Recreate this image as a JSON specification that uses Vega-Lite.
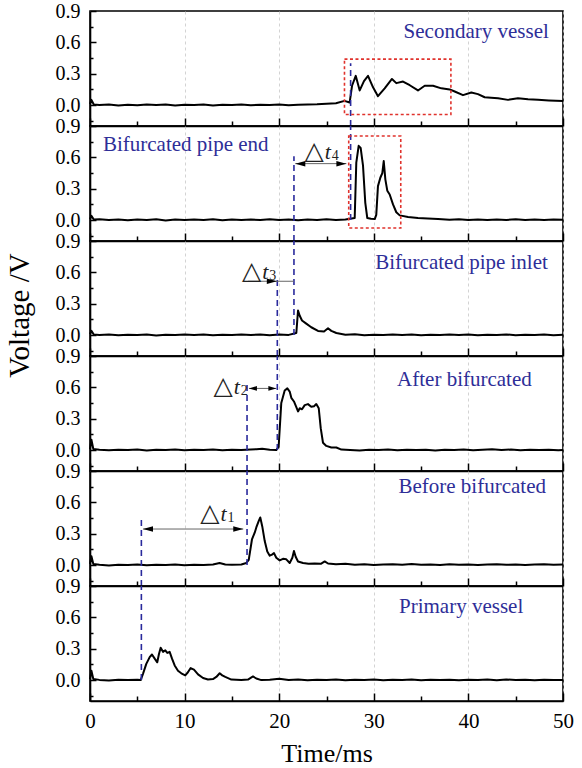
{
  "$schema": "https://vega.github.io/schema/vega-lite/v6.json",
  "background": "white",
  "padding": {"left": 4, "top": 0, "right": 6, "bottom": 0},
  "spacing": 0,
  "bounds": "flush",
  "config": {
    "view": {"stroke": "black", "strokeWidth": 1.6},
    "axis": {
      "labelFont": "Liberation Serif", "titleFont": "Liberation Serif",
      "labelColor": "black", "titleColor": "black", "titleFontWeight": "normal",
      "tickColor": "black", "domainColor": "black", "domainWidth": 1.6, "tickWidth": 1.5,
      "labelFlush": false, "labelOverlap": false
    },
    "axisX": {"gridDash": [3, 3], "gridColor": "#c8c8c8", "gridWidth": 0.8}
  },
  "datasets": {
    "s1": [{"t":0,"v":0.01},{"t":0.15,"v":0.05},{"t":0.4,"v":0.005},{"t":1,"v":0},{"t":2,"v":0.006},{"t":3,"v":-0.004},{"t":4,"v":0.004},{"t":5,"v":-0.002},{"t":6,"v":0.006},{"t":7,"v":0},{"t":8,"v":0.005},{"t":9,"v":-0.004},{"t":10,"v":0.004},{"t":11,"v":0},{"t":12,"v":0.006},{"t":13,"v":-0.003},{"t":14,"v":0.004},{"t":15,"v":0},{"t":16,"v":0.006},{"t":17,"v":-0.002},{"t":18,"v":0.004},{"t":19,"v":0},{"t":20,"v":0.005},{"t":21,"v":-0.002},{"t":22,"v":0.004},{"t":23,"v":0.006},{"t":24,"v":0.008},{"t":25,"v":0.012},{"t":26,"v":0.018},{"t":26.9,"v":0.04},{"t":27.45,"v":0.025},{"t":27.7,"v":0.185},{"t":28.09,"v":0.28},{"t":28.51,"v":0.14},{"t":28.96,"v":0.23},{"t":29.39,"v":0.28},{"t":29.92,"v":0.17},{"t":30.44,"v":0.085},{"t":31.15,"v":0.16},{"t":31.92,"v":0.25},{"t":32.38,"v":0.21},{"t":33.09,"v":0.225},{"t":33.8,"v":0.19},{"t":34.67,"v":0.14},{"t":35.38,"v":0.185},{"t":36.26,"v":0.185},{"t":37.14,"v":0.16},{"t":38.02,"v":0.15},{"t":38.55,"v":0.13},{"t":39.43,"v":0.095},{"t":40.31,"v":0.12},{"t":41.01,"v":0.105},{"t":41.72,"v":0.075},{"t":42.4,"v":0.07},{"t":43.13,"v":0.065},{"t":44.19,"v":0.05},{"t":45.24,"v":0.065},{"t":46.3,"v":0.055},{"t":47.36,"v":0.05},{"t":48.5,"v":0.045},{"t":50,"v":0.04}],
    "s2": [{"t":0,"v":0.01},{"t":0.15,"v":0.04},{"t":0.4,"v":0.005},{"t":1,"v":0.008},{"t":2,"v":0},{"t":3,"v":0.006},{"t":4,"v":-0.002},{"t":5,"v":0.005},{"t":6,"v":0.001},{"t":7,"v":0.007},{"t":8,"v":-0.003},{"t":9,"v":0.005},{"t":10,"v":0},{"t":11,"v":0.006},{"t":12,"v":0.002},{"t":13,"v":0.007},{"t":14,"v":-0.002},{"t":15,"v":0.005},{"t":16,"v":0.001},{"t":17,"v":0.006},{"t":18,"v":0},{"t":19,"v":0.008},{"t":20,"v":0.002},{"t":21,"v":0.006},{"t":22,"v":-0.002},{"t":23,"v":0.005},{"t":24,"v":0.001},{"t":25,"v":0.007},{"t":26,"v":0.002},{"t":27,"v":0.006},{"t":27.98,"v":0.02},{"t":28.15,"v":0.55},{"t":28.4,"v":0.71},{"t":28.61,"v":0.69},{"t":28.86,"v":0.52},{"t":29.1,"v":0.165},{"t":29.31,"v":0.02},{"t":29.7,"v":0.012},{"t":30.1,"v":0.01},{"t":30.26,"v":0.05},{"t":30.44,"v":0.325},{"t":30.69,"v":0.405},{"t":30.9,"v":0.45},{"t":31.05,"v":0.565},{"t":31.22,"v":0.39},{"t":31.43,"v":0.28},{"t":31.68,"v":0.245},{"t":32.03,"v":0.15},{"t":32.38,"v":0.075},{"t":32.74,"v":0.045},{"t":33.62,"v":0.03},{"t":34.67,"v":0.02},{"t":35.7,"v":0.015},{"t":36.79,"v":0.01},{"t":38,"v":0.004},{"t":39,"v":0.008},{"t":40,"v":0.002},{"t":41,"v":0.006},{"t":42,"v":0},{"t":43,"v":0.005},{"t":44,"v":0.002},{"t":45,"v":0.007},{"t":46,"v":0.001},{"t":47,"v":0.005},{"t":48,"v":0},{"t":49,"v":0.006},{"t":50,"v":0.003}],
    "s3": [{"t":0,"v":0.01},{"t":0.15,"v":0.04},{"t":0.4,"v":0.005},{"t":1,"v":0.002},{"t":2,"v":0.006},{"t":3,"v":-0.002},{"t":4,"v":0.004},{"t":5,"v":0.001},{"t":6,"v":0.006},{"t":7,"v":-0.003},{"t":8,"v":0.004},{"t":9,"v":0},{"t":10,"v":0.005},{"t":11,"v":0.001},{"t":12,"v":0.006},{"t":13,"v":-0.002},{"t":14,"v":0.004},{"t":15,"v":0},{"t":16,"v":0.005},{"t":17,"v":0.001},{"t":18,"v":0.006},{"t":19,"v":-0.002},{"t":20,"v":0.005},{"t":21,"v":0.002},{"t":21.81,"v":0.02},{"t":21.99,"v":0.235},{"t":22.17,"v":0.185},{"t":22.41,"v":0.14},{"t":22.86,"v":0.11},{"t":23.39,"v":0.075},{"t":24.1,"v":0.04},{"t":24.74,"v":0.035},{"t":25.16,"v":0.065},{"t":25.51,"v":0.04},{"t":26.04,"v":0.02},{"t":27,"v":0.004},{"t":28,"v":0.007},{"t":29,"v":-0.002},{"t":30,"v":0.004},{"t":31,"v":0},{"t":32,"v":0.006},{"t":33,"v":0.001},{"t":34,"v":0.005},{"t":35,"v":-0.002},{"t":36,"v":0.004},{"t":37,"v":0},{"t":38,"v":0.006},{"t":39,"v":0.001},{"t":40,"v":0.005},{"t":41,"v":-0.002},{"t":42,"v":0.004},{"t":43,"v":0.001},{"t":44,"v":0.006},{"t":45,"v":-0.001},{"t":46,"v":0.004},{"t":47,"v":0},{"t":48,"v":0.005},{"t":49,"v":-0.002},{"t":50,"v":0.003}],
    "s4": [{"t":0,"v":0.01},{"t":0.15,"v":0.1},{"t":0.35,"v":0.01},{"t":1,"v":0.003},{"t":2,"v":-0.002},{"t":3,"v":0.004},{"t":4,"v":0},{"t":5,"v":0.005},{"t":6,"v":-0.003},{"t":7,"v":0.003},{"t":8,"v":0.001},{"t":9,"v":0.006},{"t":10,"v":-0.002},{"t":11,"v":0.004},{"t":12,"v":0},{"t":13,"v":0.005},{"t":14,"v":-0.002},{"t":15,"v":0.003},{"t":16,"v":0.001},{"t":17,"v":0.006},{"t":17.6,"v":0.008},{"t":18.2,"v":0.012},{"t":19,"v":0.004},{"t":19.69,"v":0},{"t":19.94,"v":0.03},{"t":20.22,"v":0.45},{"t":20.58,"v":0.57},{"t":20.86,"v":0.59},{"t":21.11,"v":0.56},{"t":21.28,"v":0.5},{"t":21.56,"v":0.465},{"t":21.81,"v":0.41},{"t":21.99,"v":0.37},{"t":22.17,"v":0.4},{"t":22.41,"v":0.39},{"t":22.7,"v":0.43},{"t":23.04,"v":0.44},{"t":23.39,"v":0.415},{"t":23.68,"v":0.42},{"t":23.92,"v":0.44},{"t":24.18,"v":0.4},{"t":24.39,"v":0.21},{"t":24.63,"v":0.07},{"t":24.98,"v":0.04},{"t":25.51,"v":0.025},{"t":26.04,"v":0.025},{"t":26.57,"v":0.005},{"t":27.5,"v":0.002},{"t":28.5,"v":-0.003},{"t":29.5,"v":0.004},{"t":30.5,"v":0},{"t":31.5,"v":0.005},{"t":32.5,"v":-0.002},{"t":33.5,"v":0.003},{"t":34.5,"v":0},{"t":35.5,"v":0.004},{"t":36.5,"v":-0.003},{"t":37.5,"v":0.003},{"t":38.5,"v":0.001},{"t":39.5,"v":0.005},{"t":40.5,"v":-0.002},{"t":41.5,"v":0.004},{"t":42.5,"v":0.008},{"t":43.5,"v":0.002},{"t":44.5,"v":0.005},{"t":45.5,"v":-0.002},{"t":46.5,"v":0.003},{"t":47.5,"v":0},{"t":48.5,"v":0.004},{"t":49.5,"v":-0.002},{"t":50,"v":0.002}],
    "s5": [{"t":0,"v":0.01},{"t":0.15,"v":0.085},{"t":0.35,"v":0.01},{"t":1,"v":0.003},{"t":2,"v":-0.003},{"t":3,"v":0.004},{"t":4,"v":0},{"t":5,"v":0.005},{"t":6,"v":-0.002},{"t":7,"v":0.003},{"t":8,"v":0.001},{"t":9,"v":0.005},{"t":10,"v":-0.002},{"t":11,"v":0.004},{"t":12,"v":0.001},{"t":13,"v":0.006},{"t":13.7,"v":0.02},{"t":14.3,"v":0.005},{"t":15,"v":0.004},{"t":16,"v":0.006},{"t":16.52,"v":0.02},{"t":16.78,"v":0.05},{"t":17.12,"v":0.245},{"t":17.41,"v":0.31},{"t":17.58,"v":0.36},{"t":17.83,"v":0.42},{"t":18,"v":0.455},{"t":18.21,"v":0.37},{"t":18.47,"v":0.23},{"t":18.74,"v":0.13},{"t":19,"v":0.09},{"t":19.24,"v":0.1},{"t":19.45,"v":0.115},{"t":19.69,"v":0.07},{"t":20.05,"v":0.045},{"t":20.4,"v":0.06},{"t":20.75,"v":0.055},{"t":21.11,"v":0.02},{"t":21.39,"v":0.07},{"t":21.56,"v":0.135},{"t":21.74,"v":0.08},{"t":21.99,"v":0.035},{"t":22.52,"v":0.02},{"t":23.1,"v":0.012},{"t":23.75,"v":0.015},{"t":24.4,"v":0.012},{"t":24.81,"v":0.035},{"t":25.16,"v":0.015},{"t":26,"v":0.008},{"t":27,"v":0.012},{"t":28,"v":0.004},{"t":29,"v":0.007},{"t":30,"v":0.002},{"t":31,"v":0.006},{"t":32,"v":0.009},{"t":33,"v":0.003},{"t":34,"v":0.01},{"t":35,"v":0.004},{"t":36,"v":0.006},{"t":37,"v":0.002},{"t":38,"v":0.007},{"t":39,"v":0.004},{"t":40,"v":0.006},{"t":41,"v":0.002},{"t":42,"v":0.005},{"t":43,"v":0.008},{"t":44,"v":0.003},{"t":45,"v":0.006},{"t":46,"v":0.002},{"t":47,"v":0.005},{"t":48,"v":0.007},{"t":49,"v":0.003},{"t":50,"v":0.005}],
    "s6": [{"t":0,"v":0.01},{"t":0.15,"v":0.09},{"t":0.35,"v":0.01},{"t":1,"v":0.002},{"t":2,"v":-0.003},{"t":3,"v":0.004},{"t":4,"v":0},{"t":5,"v":0.003},{"t":5.36,"v":0},{"t":5.6,"v":0.06},{"t":5.95,"v":0.155},{"t":6.31,"v":0.22},{"t":6.55,"v":0.245},{"t":6.84,"v":0.205},{"t":7.11,"v":0.17},{"t":7.29,"v":0.25},{"t":7.47,"v":0.31},{"t":7.72,"v":0.27},{"t":7.96,"v":0.285},{"t":8.17,"v":0.26},{"t":8.42,"v":0.27},{"t":8.67,"v":0.205},{"t":8.95,"v":0.14},{"t":9.3,"v":0.09},{"t":9.65,"v":0.065},{"t":10.07,"v":0.045},{"t":10.35,"v":0.075},{"t":10.64,"v":0.115},{"t":10.99,"v":0.1},{"t":11.42,"v":0.055},{"t":11.95,"v":0.02},{"t":12.47,"v":0.005},{"t":13,"v":0.01},{"t":13.35,"v":0.03},{"t":13.71,"v":0.065},{"t":13.98,"v":0.045},{"t":14.3,"v":0.03},{"t":14.94,"v":0.005},{"t":15.99,"v":0},{"t":16.7,"v":0.005},{"t":17.23,"v":0.035},{"t":17.58,"v":0.015},{"t":18.11,"v":0},{"t":19,"v":0.004},{"t":20,"v":0.012},{"t":21,"v":0.002},{"t":22,"v":0.005},{"t":23,"v":-0.002},{"t":24,"v":0.004},{"t":25,"v":0},{"t":26,"v":0.005},{"t":27,"v":-0.002},{"t":28,"v":0.003},{"t":29,"v":0.001},{"t":30,"v":0.005},{"t":31,"v":-0.002},{"t":32,"v":0.004},{"t":33,"v":0},{"t":34,"v":0.005},{"t":35,"v":-0.002},{"t":36,"v":0.003},{"t":37,"v":0.001},{"t":38,"v":0.004},{"t":39,"v":-0.002},{"t":40,"v":0.003},{"t":41,"v":0.001},{"t":42,"v":0.005},{"t":43,"v":-0.002},{"t":44,"v":0.006},{"t":45,"v":0.001},{"t":46,"v":0.004},{"t":47,"v":-0.002},{"t":48,"v":0.003},{"t":49,"v":0},{"t":50,"v":0.002}],
    "guides": [
      {"p":1,"t":27.55,"a":-0.2,"b":0.4},
      {"p":2,"t":27.55,"a":0,"b":0.9},{"p":2,"t":21.56,"a":-0.2,"b":0.61},
      {"p":3,"t":21.56,"a":0,"b":0.9},{"p":3,"t":19.8,"a":-0.2,"b":0.55},
      {"p":4,"t":19.8,"a":0,"b":0.9},{"p":4,"t":16.6,"a":-0.2,"b":0.65},
      {"p":5,"t":16.6,"a":0,"b":0.9},{"p":5,"t":5.43,"a":-0.2,"b":0.44},
      {"p":6,"t":5.43,"a":0,"b":0.9}
    ],
    "boxes": [
      {"p":1,"t":26.9,"t2":38.15,"a":-0.09,"b":0.44},
      {"p":2,"t":27.35,"t2":32.85,"a":-0.075,"b":0.805}
    ],
    "names": [
      {"p":1,"t":48.5,"v":0.7,"name":"Secondary vessel"},
      {"p":2,"t":1.37,"v":0.72,"name":"Bifurcated pipe end"},
      {"p":3,"t":48.4,"v":0.69,"name":"Bifurcated pipe inlet"},
      {"p":4,"t":46.7,"v":0.675,"name":"After bifurcated"},
      {"p":5,"t":48.2,"v":0.75,"name":"Before bifurcated"},
      {"p":6,"t":45.8,"v":0.7,"name":"Primary vessel"}
    ],
    "arrows": [
      {"p":5,"t":5.6,"t2":16.2,"v":0.345},
      {"p":4,"t":16.8,"t2":19.7,"v":0.59},
      {"p":3,"t":16.7,"t2":21.56,"v":0.515},
      {"p":2,"t":21.7,"t2":27.1,"v":0.54}
    ],
    "heads": [
      {"p":5,"t":5.6,"v":0.345,"d":"L"},{"p":5,"t":16.2,"v":0.345,"d":"R"},
      {"p":4,"t":16.8,"v":0.59,"d":"L"},{"p":4,"t":19.7,"v":0.59,"d":"R"},
      {"p":3,"t":19.75,"v":0.515,"d":"R"},
      {"p":2,"t":21.7,"v":0.54,"d":"L"},{"p":2,"t":27.1,"v":0.54,"d":"R"}
    ],
    "dt": [
      {"p":5,"t":13.7,"v":0.5,"s":"1"},
      {"p":4,"t":15.1,"v":0.61,"s":"2"},
      {"p":3,"t":18.1,"v":0.61,"s":"3"},
      {"p":2,"t":24.7,"v":0.66,"s":"4"}
    ]
  },
  "vconcat": [
    {
      "width": 473, "height": 115,
      "layer": [
        {"data": {"name": "s1"}, "mark": {"type": "line", "color": "black", "strokeWidth": 2, "strokeJoin": "round"},
         "encoding": {
           "x": {"field": "t", "type": "quantitative", "scale": {"domain": [0, 50], "nice": false},
                 "axis": {"orient": "bottom", "values": [0,10,20,30,40,50], "labels": false, "title": null, "tickSize": -8, "grid": true}},
           "y": {"field": "v", "type": "quantitative", "scale": {"domain": [-0.2, 0.9], "nice": false, "zero": false},
                 "axis": {"orient": "left", "values": [0,0.3,0.6,0.9], "format": ".1f", "tickSize": -6, "labelPadding": 16, "labelFontSize": 20, "grid": false, "title": null}}}},
        {"data": {"name": "guides"}, "transform": [{"filter": "datum.p == 1"}],
         "mark": {"type": "rule", "color": "#2a2a9c", "strokeWidth": 1.6, "strokeDash": [6, 4]},
         "encoding": {
           "x": {"field": "t", "type": "quantitative", "axis": {"orient": "bottom", "values": [5,15,25,35,45], "tickSize": -5, "labels": false, "domain": false, "grid": false, "title": null}},
           "y": {"field": "a", "type": "quantitative", "axis": {"orient": "left", "values": [-0.15,0.15,0.45,0.75], "tickSize": -3, "labels": false, "domain": false, "grid": false, "title": null}},
           "y2": {"field": "b"}}},
        {"data": {"name": "boxes"}, "transform": [{"filter": "datum.p == 1"}],
         "mark": {"type": "rect", "fillOpacity": 0, "stroke": "#e0322c", "strokeWidth": 1.6, "strokeDash": [3, 2.5]},
         "encoding": {"x": {"field": "t", "type": "quantitative", "axis": null}, "x2": {"field": "t2"},
                      "y": {"field": "a", "type": "quantitative", "axis": null}, "y2": {"field": "b"}}},
        {"data": {"name": "names"}, "transform": [{"filter": "datum.p == 1"}],
         "mark": {"type": "text", "align": "right", "baseline": "middle", "font": "Liberation Serif", "fontSize": 21, "color": "#2e2e98"},
         "encoding": {"x": {"field": "t", "type": "quantitative", "axis": null}, "y": {"field": "v", "type": "quantitative", "axis": null}, "text": {"field": "name"}}}
      ],
      "resolve": {"axis": {"x": "independent", "y": "independent"}}
    },
    {
      "width": 473, "height": 115,
      "layer": [
        {"data": {"name": "s2"}, "mark": {"type": "line", "color": "black", "strokeWidth": 2, "strokeJoin": "round"},
         "encoding": {
           "x": {"field": "t", "type": "quantitative", "scale": {"domain": [0, 50], "nice": false},
                 "axis": {"orient": "bottom", "values": [0,10,20,30,40,50], "labels": false, "title": null, "tickSize": -8, "grid": true}},
           "y": {"field": "v", "type": "quantitative", "scale": {"domain": [-0.2, 0.9], "nice": false, "zero": false},
                 "axis": {"orient": "left", "values": [0,0.3,0.6,0.9], "format": ".1f", "tickSize": -6, "labelPadding": 16, "labelFontSize": 20, "grid": false, "title": null}}}},
        {"data": {"name": "guides"}, "transform": [{"filter": "datum.p == 2"}],
         "mark": {"type": "rule", "color": "#2a2a9c", "strokeWidth": 1.6, "strokeDash": [6, 4]},
         "encoding": {
           "x": {"field": "t", "type": "quantitative", "axis": {"orient": "bottom", "values": [5,15,25,35,45], "tickSize": -5, "labels": false, "domain": false, "grid": false, "title": null}},
           "y": {"field": "a", "type": "quantitative", "axis": {"orient": "left", "values": [-0.15,0.15,0.45,0.75], "tickSize": -3, "labels": false, "domain": false, "grid": false, "title": null}},
           "y2": {"field": "b"}}},
        {"data": {"name": "boxes"}, "transform": [{"filter": "datum.p == 2"}],
         "mark": {"type": "rect", "fillOpacity": 0, "stroke": "#e0322c", "strokeWidth": 1.6, "strokeDash": [3, 2.5]},
         "encoding": {"x": {"field": "t", "type": "quantitative", "axis": null}, "x2": {"field": "t2"},
                      "y": {"field": "a", "type": "quantitative", "axis": null}, "y2": {"field": "b"}}},
        {"data": {"name": "names"}, "transform": [{"filter": "datum.p == 2"}],
         "mark": {"type": "text", "align": "left", "baseline": "middle", "font": "Liberation Serif", "fontSize": 21, "color": "#2e2e98"},
         "encoding": {"x": {"field": "t", "type": "quantitative", "axis": null}, "y": {"field": "v", "type": "quantitative", "axis": null}, "text": {"field": "name"}}},
        {"data": {"name": "arrows"}, "transform": [{"filter": "datum.p == 2"}],
         "mark": {"type": "rule", "color": "#666666", "strokeWidth": 1},
         "encoding": {"x": {"field": "t", "type": "quantitative", "axis": null}, "x2": {"field": "t2"}, "y": {"field": "v", "type": "quantitative", "axis": null}}},
        {"data": {"name": "heads"}, "transform": [{"filter": "datum.p == 2 && datum.d == 'L'"}],
         "mark": {"type": "point", "filled": true, "opacity": 1, "color": "black", "size": 100, "shape": "M0,0L2,-0.55L2,0.55Z"},
         "encoding": {"x": {"field": "t", "type": "quantitative", "axis": null}, "y": {"field": "v", "type": "quantitative", "axis": null}}},
        {"data": {"name": "heads"}, "transform": [{"filter": "datum.p == 2 && datum.d == 'R'"}],
         "mark": {"type": "point", "filled": true, "opacity": 1, "color": "black", "size": 100, "shape": "M0,0L-2,-0.55L-2,0.55Z"},
         "encoding": {"x": {"field": "t", "type": "quantitative", "axis": null}, "y": {"field": "v", "type": "quantitative", "axis": null}}},
        {"data": {"name": "dt"}, "transform": [{"filter": "datum.p == 2"}],
         "mark": {"type": "text", "text": "△", "align": "right", "baseline": "middle", "font": "DejaVu Sans", "fontSize": 25, "color": "#222222"},
         "encoding": {"x": {"field": "t", "type": "quantitative", "axis": null}, "y": {"field": "v", "type": "quantitative", "axis": null}}},
        {"data": {"name": "dt"}, "transform": [{"filter": "datum.p == 2"}],
         "mark": {"type": "text", "text": "t", "align": "left", "baseline": "middle", "dx": 1, "dy": 1, "font": "Liberation Serif", "fontStyle": "italic", "fontSize": 22, "color": "#222222"},
         "encoding": {"x": {"field": "t", "type": "quantitative", "axis": null}, "y": {"field": "v", "type": "quantitative", "axis": null}}},
        {"data": {"name": "dt"}, "transform": [{"filter": "datum.p == 2"}],
         "mark": {"type": "text", "align": "left", "baseline": "middle", "dx": 8, "dy": 5, "font": "Liberation Serif", "fontSize": 14, "color": "#222222"},
         "encoding": {"x": {"field": "t", "type": "quantitative", "axis": null}, "y": {"field": "v", "type": "quantitative", "axis": null}, "text": {"field": "s"}}}
      ],
      "resolve": {"axis": {"x": "independent", "y": "independent"}}
    },
    {
      "width": 473, "height": 115,
      "layer": [
        {"data": {"name": "s3"}, "mark": {"type": "line", "color": "black", "strokeWidth": 2, "strokeJoin": "round"},
         "encoding": {
           "x": {"field": "t", "type": "quantitative", "scale": {"domain": [0, 50], "nice": false},
                 "axis": {"orient": "bottom", "values": [0,10,20,30,40,50], "labels": false, "title": null, "tickSize": -8, "grid": true}},
           "y": {"field": "v", "type": "quantitative", "scale": {"domain": [-0.2, 0.9], "nice": false, "zero": false},
                 "axis": {"orient": "left", "values": [0,0.3,0.6,0.9], "format": ".1f", "tickSize": -6, "labelPadding": 16, "labelFontSize": 20, "grid": false,
                          "title": "Voltage /V", "titleFontSize": 29, "titleAngle": -90, "titleAlign": "center", "titleBaseline": "alphabetic", "titleX": -62, "titleY": 74}}}},
        {"data": {"name": "guides"}, "transform": [{"filter": "datum.p == 3"}],
         "mark": {"type": "rule", "color": "#2a2a9c", "strokeWidth": 1.6, "strokeDash": [6, 4]},
         "encoding": {
           "x": {"field": "t", "type": "quantitative", "axis": {"orient": "bottom", "values": [5,15,25,35,45], "tickSize": -5, "labels": false, "domain": false, "grid": false, "title": null}},
           "y": {"field": "a", "type": "quantitative", "axis": {"orient": "left", "values": [-0.15,0.15,0.45,0.75], "tickSize": -3, "labels": false, "domain": false, "grid": false, "title": null}},
           "y2": {"field": "b"}}},
        {"data": {"name": "names"}, "transform": [{"filter": "datum.p == 3"}],
         "mark": {"type": "text", "align": "right", "baseline": "middle", "font": "Liberation Serif", "fontSize": 21, "color": "#2e2e98"},
         "encoding": {"x": {"field": "t", "type": "quantitative", "axis": null}, "y": {"field": "v", "type": "quantitative", "axis": null}, "text": {"field": "name"}}},
        {"data": {"name": "arrows"}, "transform": [{"filter": "datum.p == 3"}],
         "mark": {"type": "rule", "color": "#666666", "strokeWidth": 1},
         "encoding": {"x": {"field": "t", "type": "quantitative", "axis": null}, "x2": {"field": "t2"}, "y": {"field": "v", "type": "quantitative", "axis": null}}},
        {"data": {"name": "heads"}, "transform": [{"filter": "datum.p == 3 && datum.d == 'R'"}],
         "mark": {"type": "point", "filled": true, "opacity": 1, "color": "black", "size": 100, "shape": "M0,0L-2,-0.55L-2,0.55Z"},
         "encoding": {"x": {"field": "t", "type": "quantitative", "axis": null}, "y": {"field": "v", "type": "quantitative", "axis": null}}},
        {"data": {"name": "dt"}, "transform": [{"filter": "datum.p == 3"}],
         "mark": {"type": "text", "text": "△", "align": "right", "baseline": "middle", "font": "DejaVu Sans", "fontSize": 25, "color": "#222222"},
         "encoding": {"x": {"field": "t", "type": "quantitative", "axis": null}, "y": {"field": "v", "type": "quantitative", "axis": null}}},
        {"data": {"name": "dt"}, "transform": [{"filter": "datum.p == 3"}],
         "mark": {"type": "text", "text": "t", "align": "left", "baseline": "middle", "dx": 1, "dy": 1, "font": "Liberation Serif", "fontStyle": "italic", "fontSize": 22, "color": "#222222"},
         "encoding": {"x": {"field": "t", "type": "quantitative", "axis": null}, "y": {"field": "v", "type": "quantitative", "axis": null}}},
        {"data": {"name": "dt"}, "transform": [{"filter": "datum.p == 3"}],
         "mark": {"type": "text", "align": "left", "baseline": "middle", "dx": 8, "dy": 5, "font": "Liberation Serif", "fontSize": 14, "color": "#222222"},
         "encoding": {"x": {"field": "t", "type": "quantitative", "axis": null}, "y": {"field": "v", "type": "quantitative", "axis": null}, "text": {"field": "s"}}}
      ],
      "resolve": {"axis": {"x": "independent", "y": "independent"}}
    },
    {
      "width": 473, "height": 115,
      "layer": [
        {"data": {"name": "s4"}, "mark": {"type": "line", "color": "black", "strokeWidth": 2, "strokeJoin": "round"},
         "encoding": {
           "x": {"field": "t", "type": "quantitative", "scale": {"domain": [0, 50], "nice": false},
                 "axis": {"orient": "bottom", "values": [0,10,20,30,40,50], "labels": false, "title": null, "tickSize": -8, "grid": true}},
           "y": {"field": "v", "type": "quantitative", "scale": {"domain": [-0.2, 0.9], "nice": false, "zero": false},
                 "axis": {"orient": "left", "values": [0,0.3,0.6,0.9], "format": ".1f", "tickSize": -6, "labelPadding": 16, "labelFontSize": 20, "grid": false, "title": null}}}},
        {"data": {"name": "guides"}, "transform": [{"filter": "datum.p == 4"}],
         "mark": {"type": "rule", "color": "#2a2a9c", "strokeWidth": 1.6, "strokeDash": [6, 4]},
         "encoding": {
           "x": {"field": "t", "type": "quantitative", "axis": {"orient": "bottom", "values": [5,15,25,35,45], "tickSize": -5, "labels": false, "domain": false, "grid": false, "title": null}},
           "y": {"field": "a", "type": "quantitative", "axis": {"orient": "left", "values": [-0.15,0.15,0.45,0.75], "tickSize": -3, "labels": false, "domain": false, "grid": false, "title": null}},
           "y2": {"field": "b"}}},
        {"data": {"name": "names"}, "transform": [{"filter": "datum.p == 4"}],
         "mark": {"type": "text", "align": "right", "baseline": "middle", "font": "Liberation Serif", "fontSize": 21, "color": "#2e2e98"},
         "encoding": {"x": {"field": "t", "type": "quantitative", "axis": null}, "y": {"field": "v", "type": "quantitative", "axis": null}, "text": {"field": "name"}}},
        {"data": {"name": "arrows"}, "transform": [{"filter": "datum.p == 4"}],
         "mark": {"type": "rule", "color": "#666666", "strokeWidth": 1},
         "encoding": {"x": {"field": "t", "type": "quantitative", "axis": null}, "x2": {"field": "t2"}, "y": {"field": "v", "type": "quantitative", "axis": null}}},
        {"data": {"name": "heads"}, "transform": [{"filter": "datum.p == 4 && datum.d == 'L'"}],
         "mark": {"type": "point", "filled": true, "opacity": 1, "color": "black", "size": 64, "shape": "M0,0L2,-0.6L2,0.6Z"},
         "encoding": {"x": {"field": "t", "type": "quantitative", "axis": null}, "y": {"field": "v", "type": "quantitative", "axis": null}}},
        {"data": {"name": "heads"}, "transform": [{"filter": "datum.p == 4 && datum.d == 'R'"}],
         "mark": {"type": "point", "filled": true, "opacity": 1, "color": "black", "size": 64, "shape": "M0,0L-2,-0.6L-2,0.6Z"},
         "encoding": {"x": {"field": "t", "type": "quantitative", "axis": null}, "y": {"field": "v", "type": "quantitative", "axis": null}}},
        {"data": {"name": "dt"}, "transform": [{"filter": "datum.p == 4"}],
         "mark": {"type": "text", "text": "△", "align": "right", "baseline": "middle", "font": "DejaVu Sans", "fontSize": 25, "color": "#222222"},
         "encoding": {"x": {"field": "t", "type": "quantitative", "axis": null}, "y": {"field": "v", "type": "quantitative", "axis": null}}},
        {"data": {"name": "dt"}, "transform": [{"filter": "datum.p == 4"}],
         "mark": {"type": "text", "text": "t", "align": "left", "baseline": "middle", "dx": 1, "dy": 1, "font": "Liberation Serif", "fontStyle": "italic", "fontSize": 22, "color": "#222222"},
         "encoding": {"x": {"field": "t", "type": "quantitative", "axis": null}, "y": {"field": "v", "type": "quantitative", "axis": null}}},
        {"data": {"name": "dt"}, "transform": [{"filter": "datum.p == 4"}],
         "mark": {"type": "text", "align": "left", "baseline": "middle", "dx": 8, "dy": 5, "font": "Liberation Serif", "fontSize": 14, "color": "#222222"},
         "encoding": {"x": {"field": "t", "type": "quantitative", "axis": null}, "y": {"field": "v", "type": "quantitative", "axis": null}, "text": {"field": "s"}}}
      ],
      "resolve": {"axis": {"x": "independent", "y": "independent"}}
    },
    {
      "width": 473, "height": 115,
      "layer": [
        {"data": {"name": "s5"}, "mark": {"type": "line", "color": "black", "strokeWidth": 2, "strokeJoin": "round"},
         "encoding": {
           "x": {"field": "t", "type": "quantitative", "scale": {"domain": [0, 50], "nice": false},
                 "axis": {"orient": "bottom", "values": [0,10,20,30,40,50], "labels": false, "title": null, "tickSize": -8, "grid": true}},
           "y": {"field": "v", "type": "quantitative", "scale": {"domain": [-0.2, 0.9], "nice": false, "zero": false},
                 "axis": {"orient": "left", "values": [0,0.3,0.6,0.9], "format": ".1f", "tickSize": -6, "labelPadding": 16, "labelFontSize": 20, "grid": false, "title": null}}}},
        {"data": {"name": "guides"}, "transform": [{"filter": "datum.p == 5"}],
         "mark": {"type": "rule", "color": "#2a2a9c", "strokeWidth": 1.6, "strokeDash": [6, 4]},
         "encoding": {
           "x": {"field": "t", "type": "quantitative", "axis": {"orient": "bottom", "values": [5,15,25,35,45], "tickSize": -5, "labels": false, "domain": false, "grid": false, "title": null}},
           "y": {"field": "a", "type": "quantitative", "axis": {"orient": "left", "values": [-0.15,0.15,0.45,0.75], "tickSize": -3, "labels": false, "domain": false, "grid": false, "title": null}},
           "y2": {"field": "b"}}},
        {"data": {"name": "names"}, "transform": [{"filter": "datum.p == 5"}],
         "mark": {"type": "text", "align": "right", "baseline": "middle", "font": "Liberation Serif", "fontSize": 21, "color": "#2e2e98"},
         "encoding": {"x": {"field": "t", "type": "quantitative", "axis": null}, "y": {"field": "v", "type": "quantitative", "axis": null}, "text": {"field": "name"}}},
        {"data": {"name": "arrows"}, "transform": [{"filter": "datum.p == 5"}],
         "mark": {"type": "rule", "color": "#666666", "strokeWidth": 1},
         "encoding": {"x": {"field": "t", "type": "quantitative", "axis": null}, "x2": {"field": "t2"}, "y": {"field": "v", "type": "quantitative", "axis": null}}},
        {"data": {"name": "heads"}, "transform": [{"filter": "datum.p == 5 && datum.d == 'L'"}],
         "mark": {"type": "point", "filled": true, "opacity": 1, "color": "black", "size": 100, "shape": "M0,0L2,-0.55L2,0.55Z"},
         "encoding": {"x": {"field": "t", "type": "quantitative", "axis": null}, "y": {"field": "v", "type": "quantitative", "axis": null}}},
        {"data": {"name": "heads"}, "transform": [{"filter": "datum.p == 5 && datum.d == 'R'"}],
         "mark": {"type": "point", "filled": true, "opacity": 1, "color": "black", "size": 100, "shape": "M0,0L-2,-0.55L-2,0.55Z"},
         "encoding": {"x": {"field": "t", "type": "quantitative", "axis": null}, "y": {"field": "v", "type": "quantitative", "axis": null}}},
        {"data": {"name": "dt"}, "transform": [{"filter": "datum.p == 5"}],
         "mark": {"type": "text", "text": "△", "align": "right", "baseline": "middle", "font": "DejaVu Sans", "fontSize": 25, "color": "#222222"},
         "encoding": {"x": {"field": "t", "type": "quantitative", "axis": null}, "y": {"field": "v", "type": "quantitative", "axis": null}}},
        {"data": {"name": "dt"}, "transform": [{"filter": "datum.p == 5"}],
         "mark": {"type": "text", "text": "t", "align": "left", "baseline": "middle", "dx": 1, "dy": 1, "font": "Liberation Serif", "fontStyle": "italic", "fontSize": 22, "color": "#222222"},
         "encoding": {"x": {"field": "t", "type": "quantitative", "axis": null}, "y": {"field": "v", "type": "quantitative", "axis": null}}},
        {"data": {"name": "dt"}, "transform": [{"filter": "datum.p == 5"}],
         "mark": {"type": "text", "align": "left", "baseline": "middle", "dx": 8, "dy": 5, "font": "Liberation Serif", "fontSize": 14, "color": "#222222"},
         "encoding": {"x": {"field": "t", "type": "quantitative", "axis": null}, "y": {"field": "v", "type": "quantitative", "axis": null}, "text": {"field": "s"}}}
      ],
      "resolve": {"axis": {"x": "independent", "y": "independent"}}
    },
    {
      "width": 473, "height": 115,
      "layer": [
        {"data": {"name": "s6"}, "mark": {"type": "line", "color": "black", "strokeWidth": 2, "strokeJoin": "round"},
         "encoding": {
           "x": {"field": "t", "type": "quantitative", "scale": {"domain": [0, 50], "nice": false},
                 "axis": {"orient": "bottom", "values": [0,10,20,30,40,50], "tickSize": -8, "grid": true,
                          "labelFontSize": 21, "labelPadding": 17,
                          "title": "Time/ms", "titleFontSize": 26, "titleBaseline": "alphabetic", "titleY": 60}},
           "y": {"field": "v", "type": "quantitative", "scale": {"domain": [-0.2, 0.9], "nice": false, "zero": false},
                 "axis": {"orient": "left", "values": [0,0.3,0.6,0.9], "format": ".1f", "tickSize": -6, "labelPadding": 16, "labelFontSize": 20, "grid": false, "title": null}}}},
        {"data": {"name": "guides"}, "transform": [{"filter": "datum.p == 6"}],
         "mark": {"type": "rule", "color": "#2a2a9c", "strokeWidth": 1.6, "strokeDash": [6, 4]},
         "encoding": {
           "x": {"field": "t", "type": "quantitative", "axis": {"orient": "bottom", "values": [5,15,25,35,45], "tickSize": -5, "labels": false, "domain": false, "grid": false, "title": null}},
           "y": {"field": "a", "type": "quantitative", "axis": {"orient": "left", "values": [-0.15,0.15,0.45,0.75], "tickSize": -3, "labels": false, "domain": false, "grid": false, "title": null}},
           "y2": {"field": "b"}}},
        {"data": {"name": "names"}, "transform": [{"filter": "datum.p == 6"}],
         "mark": {"type": "text", "align": "right", "baseline": "middle", "font": "Liberation Serif", "fontSize": 21, "color": "#2e2e98"},
         "encoding": {"x": {"field": "t", "type": "quantitative", "axis": null}, "y": {"field": "v", "type": "quantitative", "axis": null}, "text": {"field": "name"}}}
      ],
      "resolve": {"axis": {"x": "independent", "y": "independent"}}
    }
  ]
}
